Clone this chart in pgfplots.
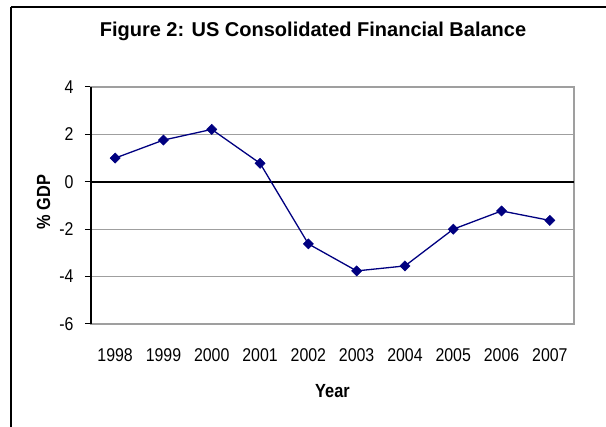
\documentclass[border=0pt]{standalone}
\usepackage{fontspec}
\setmainfont{Liberation Sans}
\newfontfamily\narrowfont[FakeStretch=0.86]{Liberation Sans}
\newfontfamily\narrowbold[FakeStretch=0.86,FakeBold=0]{Liberation Sans Bold}
\usepackage{pgfplots}
\pgfplotsset{compat=1.18}
\definecolor{navyline}{RGB}{0,0,128}
\begin{document}
\begin{tikzpicture}[x=1pt,y=1pt]
\path[use as bounding box] (-91,-103) rectangle (515,324);
\clip (-91,-103) rectangle (515,324);
\draw[line width=1.4pt,black] (-80,317) -- (540,317);
\draw[line width=1.4pt,black] (-80,317) -- (-80,-120);
\begin{axis}[
  at={(0,0)}, anchor=south west,
  scale only axis, width=483pt, height=237pt,
  xmin=-0.5, xmax=9.5, ymin=-6, ymax=4,
  xtick={0,...,9},
  xticklabels={1998,1999,2000,2001,2002,2003,2004,2005,2006,2007},
  ytick={-6,-4,-2,0,2,4},
  ytick pos=left,
  tick align=outside,
  major tick length=6pt,
  x tick style={draw=none},
  y tick style={black, line width=1pt},
  /pgf/number format/assume math mode=true,
  ticklabel style={font=\narrowfont\fontsize{18.5}{22}\selectfont, text=black},
  yticklabel style={xshift=-8pt},
  xticklabel style={yshift=-15pt},
  ymajorgrids,
  grid style={gray!75, line width=0.8pt},
  axis line style={gray!75, line width=1.3pt},
  extra y ticks={0},
  extra y tick labels={},
  extra y tick style={grid=major, grid style={black, line width=1.5pt}, major tick length=6pt},
  extra x ticks={-0.5},
  extra x tick labels={},
  extra x tick style={grid=major, grid style={black, line width=1.3pt}, major tick length=0pt},
  title={Figure 2: US Consolidated Financial Balance},
  title style={font=\bfseries\fontsize{20}{24}\selectfont, at={(axis description cs:0.4596,1.1857)}, anchor=base},
  xlabel={Year},
  xlabel style={font=\narrowbold\fontsize{19}{22}\selectfont, at={(axis description cs:0.5,-0.3122)}, anchor=base},
  ylabel={\% GDP},
  ylabel style={font=\narrowbold\fontsize{19}{22}\selectfont, at={(axis description cs:-0.0983,0.5148)}, anchor=center, rotate=0},
]
\addplot[navyline, line width=1.3pt, mark=square*, mark size=3.6pt, mark options={rotate=45, fill=navyline, draw=navyline, line width=0.5pt}]
  coordinates {(0,1.00) (1,1.76) (2,2.21) (3,0.78) (4,-2.62) (5,-3.76) (6,-3.55) (7,-2.00) (8,-1.23) (9,-1.63)};
\end{axis}
\end{tikzpicture}
\end{document}
